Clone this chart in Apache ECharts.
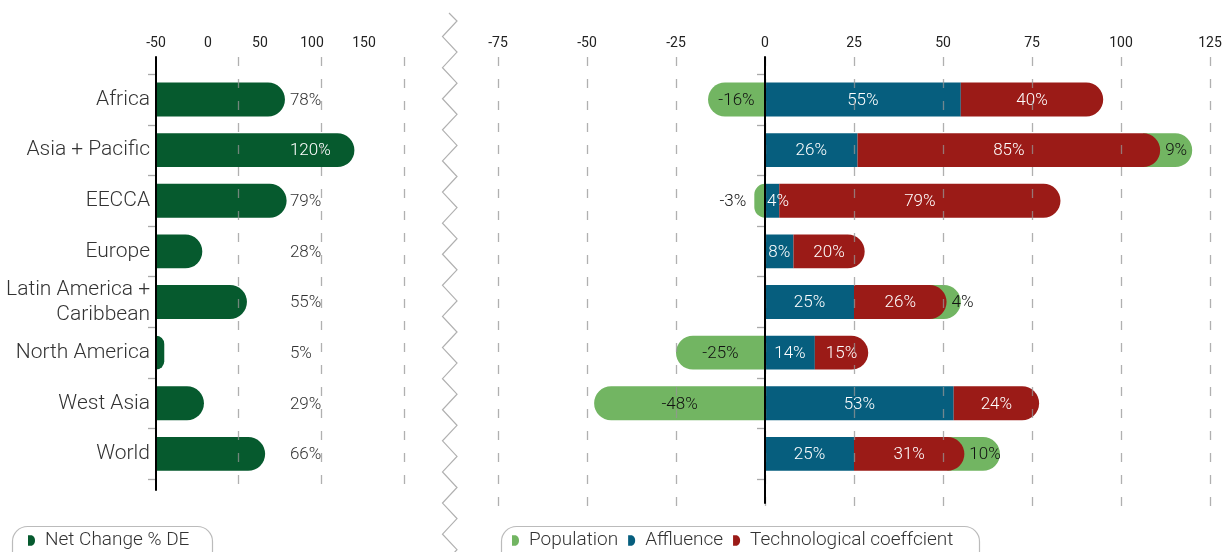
<!DOCTYPE html>
<html>
<head>
<meta charset="utf-8">
<script src="https://cdn.jsdelivr.net/npm/echarts@6/dist/echarts.min.js"></script>
<style>
  html, body { margin: 0; padding: 0; background: #fff; }
  #chart { width: 1230px; height: 552px; }
</style>
</head>
<body>
<div id="chart"></div>
<script>
// Regions, top to bottom
const regions = ['Africa', 'Asia + Pacific', 'EECCA', 'Europe', 'Latin America +\nCaribbean', 'North America', 'West Asia', 'World'];
// Net change of DE, %
const netChange = [78, 120, 79, 28, 55, 5, 29, 66];
// Driver contributions, %
const population = [-16, 9, -3, null, 4, -25, -48, 10];
const affluence = [55, 26, 4, 8, 25, 14, 53, 25];
const technology = [40, 85, 79, 20, 26, 15, 24, 31];
// Axis tick labels
const netTicks = [-50, 0, 50, 100, 150];
const driverTicks = [-75, -50, -25, 0, 25, 50, 75, 100, 125];

const COLOR = { net: '#065a2e', pop: '#72b562', aff: '#065e7e', tech: '#9b1b17' };
const FONT = 'Roboto, "Noto Sans", sans-serif';
const LABEL_SIZE = 17;
const LABEL_WEIGHT = 300;
const BAR_RATIO = 0.67;
const NET_LABEL_AT = 81;       // value on the net-change scale where its labels start
const GRID_LINE = { color: 'rgba(150,150,150,0.75)', width: 1.3, type: [9, 13] };

// Text width helper for label placement
const measureCtx = document.createElement('canvas').getContext('2d');
function textWidth(str, size) {
  measureCtx.font = LABEL_WEIGHT + ' ' + size + 'px ' + FONT;
  return measureCtx.measureText(str).width;
}
function pct(v) { return v + '%'; }

function labelEl(text, x, y, fill, align) {
  return {
    type: 'text',
    z2: 10,
    style: {
      text: text, x: x, y: y, fill: fill,
      fontSize: LABEL_SIZE, fontWeight: LABEL_WEIGHT, fontFamily: FONT,
      align: align || 'center', verticalAlign: 'middle'
    }
  };
}

// Net change bars
function renderNet(params, api) {
  const v = api.value(0), i = api.value(1);
  const start = api.coord([0, i]);
  const end = api.coord([v, i]);
  const h = api.size([0, 1])[1] * BAR_RATIO;
  const lx = api.coord([NET_LABEL_AT, i])[0];
  const txt = pct(v);
  const inside = end[0] > lx + textWidth(txt, LABEL_SIZE) + 4;
  return {
    type: 'group',
    children: [
      { type: 'rect', shape: { x: start[0], y: start[1] - h / 2, width: end[0] - start[0], height: h, r: [0, h / 2, h / 2, 0] },
        style: { fill: COLOR.net } },
      labelEl(txt, lx, start[1] + 1, inside ? '#ffffff' : '#333333', 'left')
    ]
  };
}

// Population: left of zero when negative, after the other drivers when positive
function renderPopulation(params, api) {
  const p = api.value(0);
  if (p === null || p === undefined || isNaN(p) || p === 0) return null;
  const a = api.value(1), t = api.value(2), i = api.value(3);
  const h = api.size([0, 1])[1] * BAR_RATIO;
  const zero = api.coord([0, i]);
  const y = zero[1];
  const txt = pct(p);
  const w = textWidth(txt, LABEL_SIZE);
  if (p < 0) {
    const xs = api.coord([p, i])[0];
    const width = zero[0] - xs;
    const outside = width < w + 12;
    return {
      type: 'group',
      children: [
        { type: 'rect', shape: { x: xs, y: y - h / 2, width: width, height: h, r: [h / 2, 0, 0, h / 2] }, style: { fill: COLOR.pop } },
        outside ? labelEl(txt, xs - 8, y + 1, '#111111', 'right')
                : labelEl(txt, (xs + zero[0]) / 2, y + 1, '#111111')
      ]
    };
  }
  const xe = api.coord([a + t, i])[0];
  const xt = api.coord([a + t + p, i])[0];
  const x0 = xe - h / 2;
  const cx = Math.max((xe + xt) / 2, xe + 5 + w / 2);
  return {
    type: 'group',
    children: [
      { type: 'rect', shape: { x: x0, y: y - h / 2, width: xt - x0, height: h, r: [0, h / 2, h / 2, 0] }, style: { fill: COLOR.pop } },
      labelEl(txt, cx, y + 1, '#111111')
    ]
  };
}

function renderAffluence(params, api) {
  const a = api.value(0), i = api.value(1);
  const h = api.size([0, 1])[1] * BAR_RATIO;
  const s = api.coord([0, i]);
  const e = api.coord([a, i]);
  const txt = pct(a);
  const w = textWidth(txt, LABEL_SIZE);
  const cx = Math.max((s[0] + e[0]) / 2, s[0] + 2 + w / 2);
  return {
    type: 'group',
    children: [
      { type: 'rect', shape: { x: s[0], y: s[1] - h / 2, width: e[0] - s[0], height: h }, style: { fill: COLOR.aff } },
      labelEl(txt, cx, s[1] + 1, '#ffffff')
    ]
  };
}

function renderTechnology(params, api) {
  const a = api.value(0), t = api.value(1), i = api.value(2);
  const h = api.size([0, 1])[1] * BAR_RATIO;
  const s = api.coord([a, i]);
  const e = api.coord([a + t, i]);
  return {
    type: 'group',
    children: [
      { type: 'rect', shape: { x: s[0], y: s[1] - h / 2, width: e[0] - s[0], height: h, r: [0, h / 2, h / 2, 0] }, style: { fill: COLOR.tech } },
      labelEl(pct(t), (s[0] + e[0]) / 2, s[1] + 1, '#ffffff')
    ]
  };
}

// Layout (pixels)
const ROWS_TOP = 74.2, ROWS_H = 405, FRAME_TOP = 57;
const L_LEFT = 156, L_W = 248;
const R_LEFT = 498, R_W = 712;

const hidden = { show: false };
const legendIcon = 'path://M0,0H3C6.5,0 8,3 8,6C8,9 6.5,12 3,12H0Z';
const legendText = { fontSize: 19, fontWeight: 300, color: '#333333', fontFamily: FONT, padding: [0, 0, 0, 5] };

// Zig-zag break between the two panels
const zig = [[449, 13]];
for (let k = 0; k < 36; k++) {
  zig.push([k % 2 === 0 ? 457 : 442.5, 21 + k * 15.55]);
}

const option = {
  animation: false,
  backgroundColor: '#ffffff',
  textStyle: { fontFamily: FONT },
  grid: [
    { left: L_LEFT, top: ROWS_TOP, width: L_W, height: ROWS_H },      // 0 net bars
    { left: L_LEFT, top: FRAME_TOP, width: L_W, height: 433 },        // 1 net frame
    { left: R_LEFT, top: ROWS_TOP, width: R_W, height: ROWS_H },      // 2 driver bars
    { left: R_LEFT, top: FRAME_TOP, width: R_W, height: 460 },        // 3 driver grid lines
    { left: R_LEFT, top: FRAME_TOP, width: R_W, height: 446 }         // 4 driver zero line
  ],
  xAxis: [
    { gridIndex: 0, type: 'value', min: 0, max: 150, show: false },
    { gridIndex: 1, type: 'value', min: 0, max: 150, interval: 50, position: 'bottom', z: 5,
      axisLine: hidden, axisTick: hidden, axisLabel: hidden,
      splitLine: { show: true, showMinLine: false, lineStyle: GRID_LINE } },
    { gridIndex: 1, type: 'value', min: -50, max: 188.5, position: 'top',
      axisLine: hidden, axisTick: hidden, splitLine: hidden,
      axisLabel: { customValues: netTicks, margin: 7, fontSize: 14, color: '#222222', fontFamily: FONT } },
    { gridIndex: 2, type: 'value', min: -75, max: 125, show: false },
    { gridIndex: 3, type: 'value', min: -75, max: 125, interval: 25, position: 'top', z: 5,
      axisLine: hidden, axisTick: hidden,
      axisLabel: { customValues: driverTicks, margin: 7, fontSize: 14, color: '#222222', fontFamily: FONT },
      splitLine: { show: true, lineStyle: GRID_LINE } },
    { gridIndex: 4, type: 'value', min: -75, max: 125, show: false }
  ],
  yAxis: [
    { gridIndex: 0, type: 'category', data: regions, inverse: true, offset: 9,
      axisLine: hidden,
      axisTick: { show: true, length: 8, lineStyle: { color: '#aaaaaa', width: 1.3 } },
      axisLabel: { margin: -3, fontSize: 21, fontWeight: 300, color: '#333333', fontFamily: FONT, lineHeight: 25, align: 'right' } },
    { gridIndex: 1, type: 'value', z: 6, axisLine: { show: true, lineStyle: { color: '#000000', width: 2 } },
      axisTick: hidden, axisLabel: hidden, splitLine: hidden },
    { gridIndex: 2, type: 'category', data: regions, inverse: true, offset: -264,
      axisLine: hidden, axisLabel: hidden,
      axisTick: { show: true, length: 8, lineStyle: { color: '#aaaaaa', width: 1.3 } } },
    { gridIndex: 3, type: 'value', show: false },
    { gridIndex: 4, type: 'value', z: 6, offset: -267,
      axisLine: { show: true, lineStyle: { color: '#000000', width: 2 } },
      axisTick: hidden, axisLabel: hidden, splitLine: hidden }
  ],
  legend: [
    { data: ['Net Change % DE'], left: 23, top: 526, icon: legendIcon, itemWidth: 7, itemHeight: 12,
      selectedMode: false, textStyle: legendText },
    { data: ['Population', 'Affluence', 'Technological coeffcient'], left: 507, top: 526, icon: legendIcon,
      itemWidth: 7, itemHeight: 12, itemGap: 10, selectedMode: false, textStyle: legendText }
  ],
  graphic: [
    { type: 'rect', left: 10, top: 524, shape: { width: 200, height: 40, r: 15 }, silent: true,
      style: { fill: 'none', stroke: '#bbbbbb', lineWidth: 1.2 } },
    { type: 'rect', left: 499, top: 524, shape: { width: 478, height: 40, r: 15 }, silent: true,
      style: { fill: 'none', stroke: '#bbbbbb', lineWidth: 1.2 } },
    { type: 'polyline', shape: { points: zig }, silent: true,
      style: { fill: 'none', stroke: '#b0b0b0', lineWidth: 1.2 } }
  ],
  series: [
    { name: 'Net Change % DE', type: 'custom', xAxisIndex: 0, yAxisIndex: 0,
      itemStyle: { color: COLOR.net }, renderItem: renderNet, encode: { x: 0, y: 1 },
      data: netChange.map((v, i) => [v, i]) },
    { name: 'Population', type: 'custom', xAxisIndex: 3, yAxisIndex: 2, z: 2,
      itemStyle: { color: COLOR.pop }, renderItem: renderPopulation, encode: { x: 0, y: 3 },
      data: population.map((p, i) => [p === null ? NaN : p, affluence[i], technology[i], i]) },
    { name: 'Affluence', type: 'custom', xAxisIndex: 3, yAxisIndex: 2, z: 3,
      itemStyle: { color: COLOR.aff }, renderItem: renderAffluence, encode: { x: 0, y: 1 },
      data: affluence.map((a, i) => [a, i]) },
    { name: 'Technological coeffcient', type: 'custom', xAxisIndex: 3, yAxisIndex: 2, z: 3,
      itemStyle: { color: COLOR.tech }, renderItem: renderTechnology, encode: { x: [0, 1], y: 2 },
      data: technology.map((t, i) => [affluence[i], t, i]) }
  ]
};

const chart = echarts.init(document.getElementById('chart'), null, { renderer: 'canvas' });
chart.setOption(option);
</script>
</body>
</html>
